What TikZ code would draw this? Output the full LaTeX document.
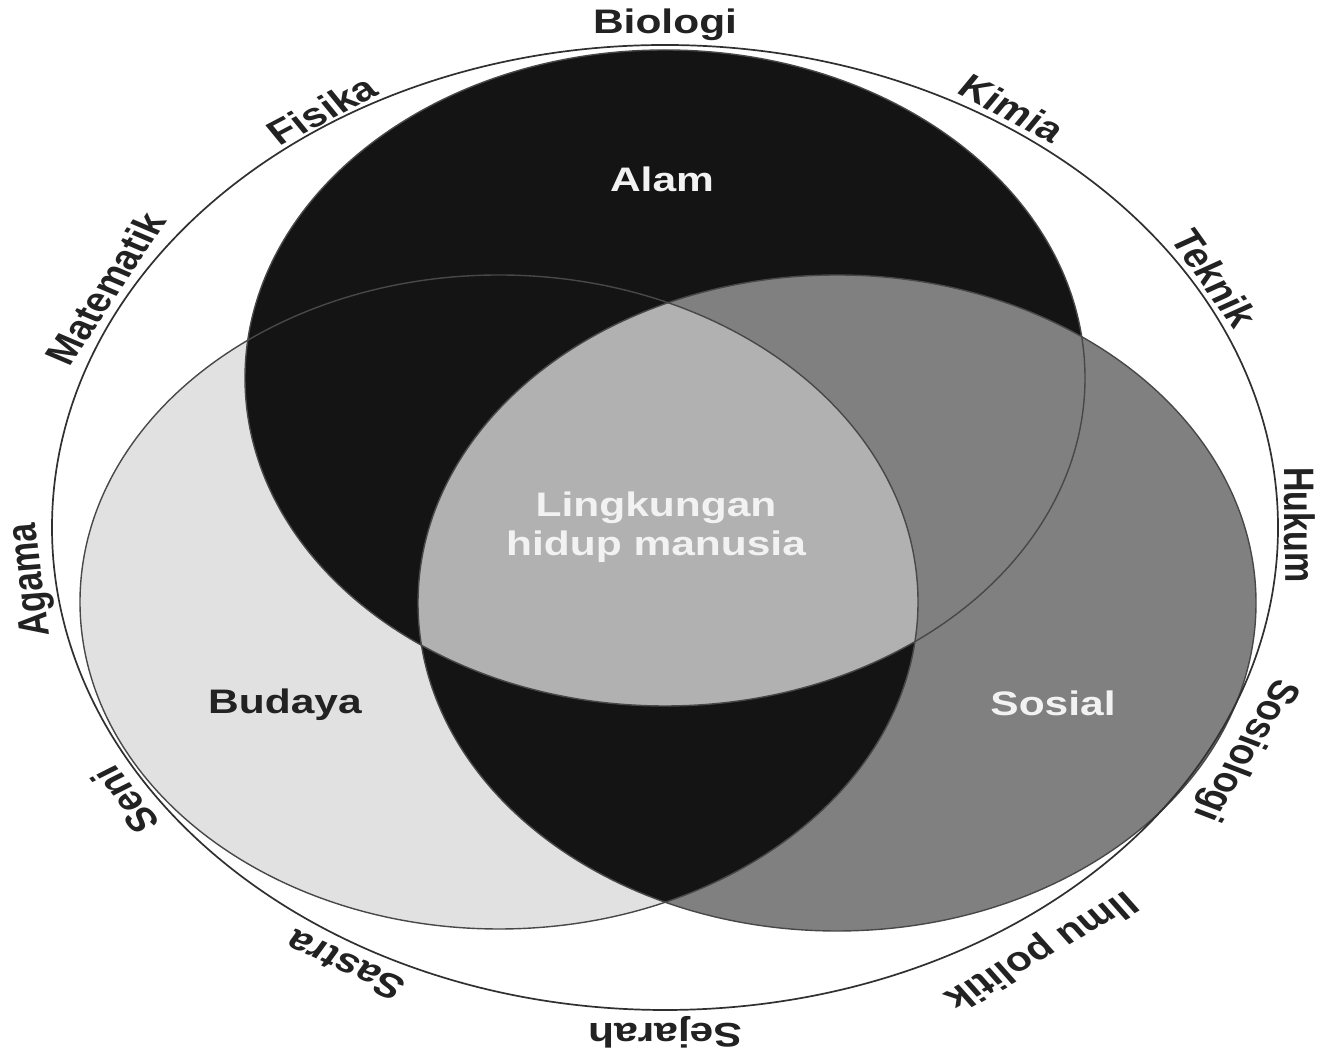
\documentclass[tikz,border=0pt]{standalone}
\usepackage{fontspec}
\setmainfont{Liberation Sans}
\definecolor{alamfill}{HTML}{141414}
\definecolor{budfill}{HTML}{E1E1E1}
\definecolor{sosfill}{HTML}{808080}
\definecolor{midfill}{HTML}{B1B1B1}
\definecolor{edgecol}{HTML}{484848}
\definecolor{ringcol}{HTML}{303030}
\definecolor{txtdark}{HTML}{222222}
\definecolor{txtlight}{HTML}{F2F2F2}
\newcommand\ringlabel[6][txtdark]{%
  \begin{scope}[shift={(#3,1056-#4)}, xscale=1.25, rotate=#5]
    \node[lbl, text=#1] (#2) at (0,0) {#6};
  \end{scope}}
\begin{document}
\begin{tikzpicture}[x=1pt,y=1pt,
  lbl/.style={font=\bfseries\fontsize{34}{39}\selectfont, inner sep=0pt, align=center, transform shape},
  edge/.style={draw=edgecol, line width=1.4pt},
  ring/.style={draw=ringcol, line width=1.7pt}]
\useasboundingbox (0,0) rectangle (1323,1056);
\fill[white] (0,0) rectangle (1323,1056);
% base fills
\fill[budfill] (499,454) ellipse [x radius=419, y radius=327];
\fill[sosfill] (837,453) ellipse [x radius=419, y radius=328];
\fill[alamfill] (665,678) ellipse [x radius=420, y radius=328];
% Alam & Sosial
\begin{scope}
  \clip (665,678) ellipse [x radius=420, y radius=328];
  \fill[sosfill] (837,453) ellipse [x radius=419, y radius=328];
\end{scope}
% Budaya & Sosial, and the common centre
\begin{scope}
  \clip (499,454) ellipse [x radius=419, y radius=327];
  \fill[alamfill] (837,453) ellipse [x radius=419, y radius=328];
  \clip (665,678) ellipse [x radius=420, y radius=328];
  \fill[midfill] (837,453) ellipse [x radius=419, y radius=328];
\end{scope}
% outlines
\draw[edge] (665,678) ellipse [x radius=420, y radius=328];
\draw[edge] (499,454) ellipse [x radius=419, y radius=327];
\draw[edge] (837,453) ellipse [x radius=419, y radius=328];
\draw[ring] (665,528.5) ellipse [x radius=613, y radius=482.5];
% inner labels
\ringlabel[txtlight]{alam}{662}{179}{0}{Alam}
\ringlabel[txtlight]{lingkungan}{656}{527}{0}{Lingkungan\\hidup manusia}
\ringlabel{budaya}{285}{705}{0}{Budaya}
\ringlabel[txtlight]{sosial}{1053}{703}{0}{Sosial}
% ring labels
\ringlabel{biologi}{665}{25}{0}{Biologi}
\ringlabel{fisika}{322}{110}{33.3}{Fisika}
\ringlabel{kimia}{1012}{108}{-33.5}{Kimia}
\ringlabel{matematik}{105}{288}{61.9}{Matematik}
\ringlabel{teknik}{1215}{278}{-60.4}{Teknik}
\ringlabel{agama}{32}{580}{95.9}{Agama}
\ringlabel{hukum}{1300}{525}{-89.7}{Hukum}
\ringlabel{seni}{125}{800}{122.2}{Seni}
\ringlabel{sosiologi}{1245}{750}{-115.6}{Sosiologi}
\ringlabel{sastra}{345}{965}{149.7}{Sastra}
\ringlabel{ilmupolitik}{1040}{950}{-144.6}{Ilmu politik}
\ringlabel{sejarah}{665}{1032}{180}{Sejarah}
\end{tikzpicture}
\end{document}
